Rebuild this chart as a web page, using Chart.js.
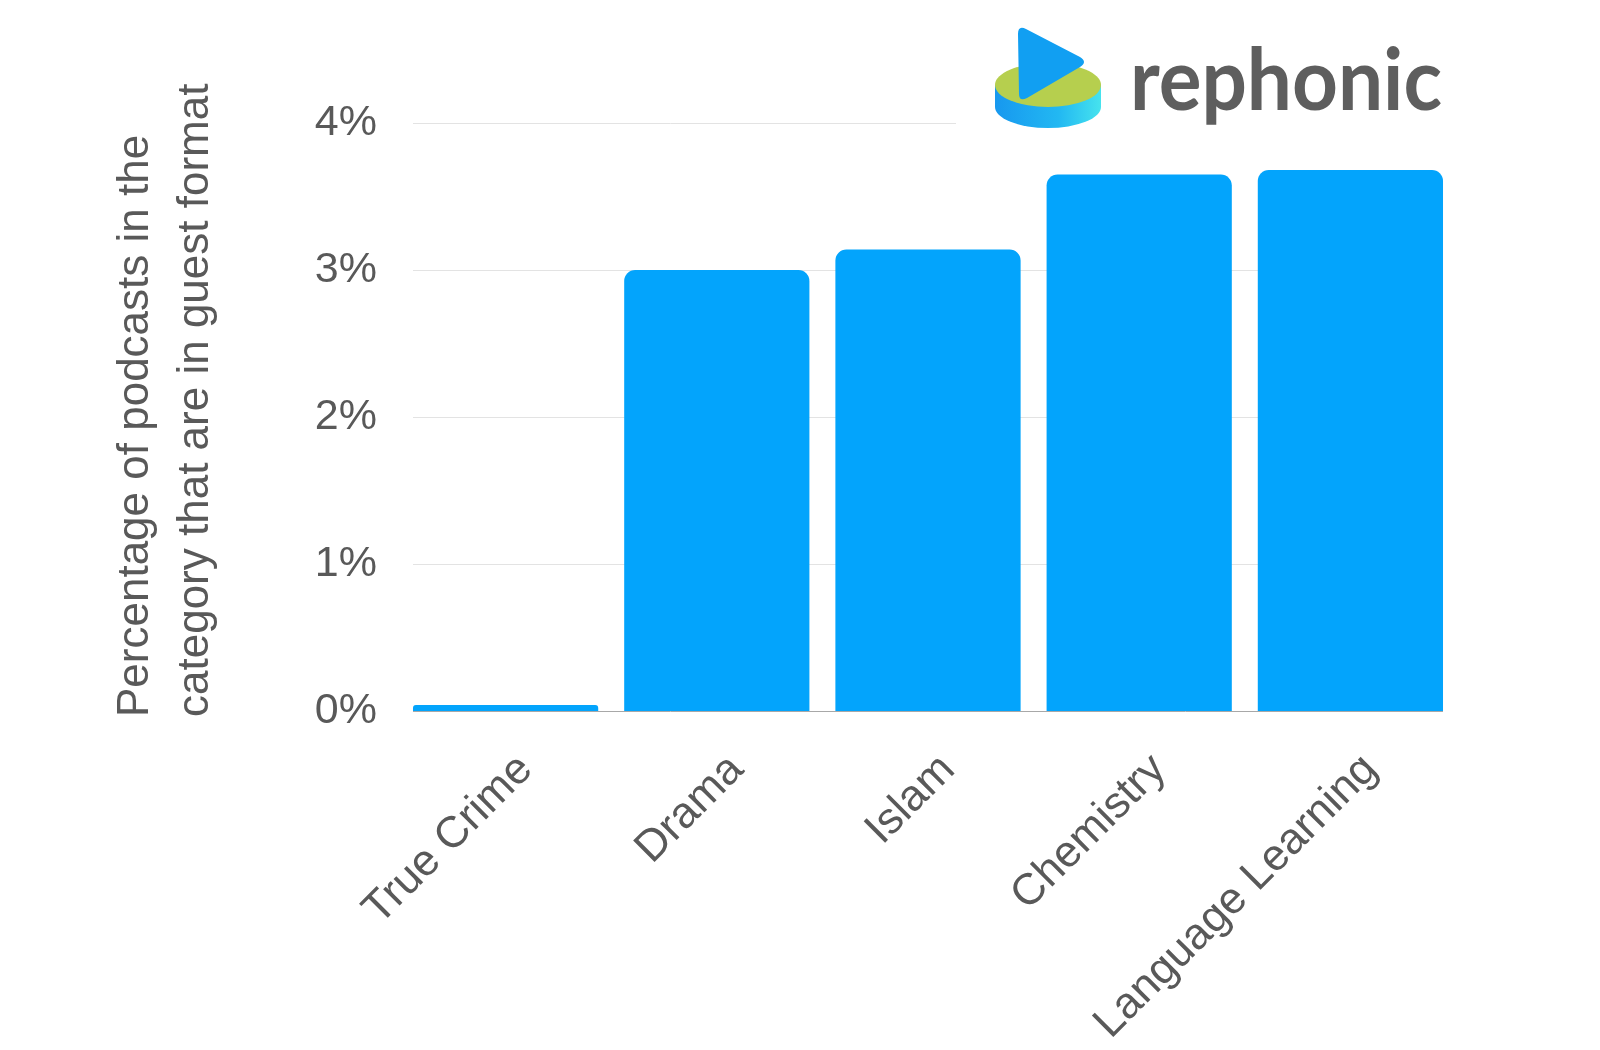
<!DOCTYPE html>
<html>
<head>
<meta charset="utf-8">
<script src="https://cdn.jsdelivr.net/npm/chart.js@4/dist/chart.umd.min.js"></script>
<style>
  body { margin: 0; background: #fff; }
  #wrap { position: relative; width: 1600px; height: 1050px; }
  #logo { position: absolute; left: 0; top: 0; pointer-events: none; }
</style>
</head>
<body>
<div id="wrap">
  <canvas id="myChart" width="1600" height="1050"></canvas>
  <svg id="logo" width="1600" height="1050">
    <defs>
      <linearGradient id="side" x1="0" x2="1" y1="0" y2="0">
        <stop offset="0" stop-color="#1798ef"/>
        <stop offset="0.6" stop-color="#22b8f2"/>
        <stop offset="1" stop-color="#46e3ee"/>
      </linearGradient>
    </defs>
    <rect x="956" y="14" width="500" height="128" fill="#fff"/>
    <ellipse cx="1048" cy="107" rx="53" ry="21" fill="url(#side)"/>
    <rect x="995" y="85" width="106" height="22" fill="url(#side)"/>
    <ellipse cx="1048" cy="85" rx="53" ry="22" fill="#b6cf4e"/>
    <path d="M1018 34 Q1018 25 1026 29 L1080 57 Q1088 62 1080 67 L1027 98 Q1019 102 1019 94 Z" fill="#119ff2"/>
    <text x="1130" y="110" textLength="312" lengthAdjust="spacingAndGlyphs"
      font-family="Lato, 'Open Sans', sans-serif" font-weight="700" font-size="86" fill="#5e5e5e">rephonic</text>
  </svg>
</div>
<script>
const categories = ['True Crime', 'Drama', 'Islam', 'Chemistry', 'Language Learning'];
const guestShare = [0.04, 3.00, 3.14, 3.65, 3.68];
const axisTitle = ['Percentage of podcasts in the', 'category that are in guest format'];
const yMax = 4;

const textColor = '#595959';
const fontFamily = "'Liberation Sans', Arial, sans-serif";

// gridlines only span from the first bar to the last one
const barGrid = {
  id: 'barGrid',
  beforeDatasetsDraw(chart) {
    const bars = chart.getDatasetMeta(0).data;
    const first = bars[0], last = bars[bars.length - 1];
    const x0 = first.x - first.width / 2;
    const x1 = last.x + last.width / 2;
    const yScale = chart.scales.y;
    const ctx = chart.ctx;
    ctx.save();
    yScale.ticks.forEach(t => {
      const py = Math.round(yScale.getPixelForValue(t.value)) + 0.5;
      ctx.strokeStyle = t.value === 0 ? '#a8a8a8' : '#e3e3e3';
      ctx.lineWidth = 1;
      ctx.beginPath();
      ctx.moveTo(x0, py);
      ctx.lineTo(x1, py);
      ctx.stroke();
    });
    ctx.restore();
  }
};

// two-line rotated axis title, starting a bit below the baseline
const yTitle = {
  id: 'yTitle',
  afterDraw(chart) {
    const ctx = chart.ctx;
    ctx.save();
    ctx.translate(0, chart.chartArea.bottom + 6);
    ctx.rotate(-Math.PI / 2);
    ctx.font = '44px ' + fontFamily;
    ctx.fillStyle = textColor;
    ctx.textAlign = 'left';
    ctx.textBaseline = 'alphabetic';
    axisTitle.forEach((line, i) => ctx.fillText(line, 0, 148 + i * 60));
    ctx.restore();
  }
};

const myChart = new Chart(document.getElementById('myChart').getContext('2d'), {
  type: 'bar',
  data: {
    labels: categories,
    datasets: [{
      data: guestShare,
      backgroundColor: '#03a4fc',
      borderRadius: 11,
      borderSkipped: 'start',
      categoryPercentage: 1,
      barPercentage: 0.877
    }]
  },
  options: {
    responsive: false,
    animation: false,
    layout: { padding: { top: 123, right: 144, left: 0, bottom: 0 } },
    plugins: {
      legend: { display: false },
      tooltip: { enabled: false }
    },
    scales: {
      x: {
        grid: { display: false, drawTicks: false },
        border: { display: false },
        ticks: {
          color: textColor,
          font: { family: fontFamily, size: 44 },
          minRotation: 45,
          maxRotation: 45,
          autoSkip: false,
          padding: 33,
          labelOffset: 20
        },
        afterFit(scale) { scale.height = 339; }
      },
      y: {
        min: 0,
        max: yMax,
        grid: { display: false, drawTicks: false },
        border: { display: false },
        ticks: {
          stepSize: 1,
          color: textColor,
          font: { family: fontFamily, size: 43 },
          padding: 23,
          callback: v => v + '%'
        },
        afterFit(scale) { scale.width = 400; }
      }
    }
  },
  plugins: [barGrid, yTitle]
});
</script>
</body>
</html>
